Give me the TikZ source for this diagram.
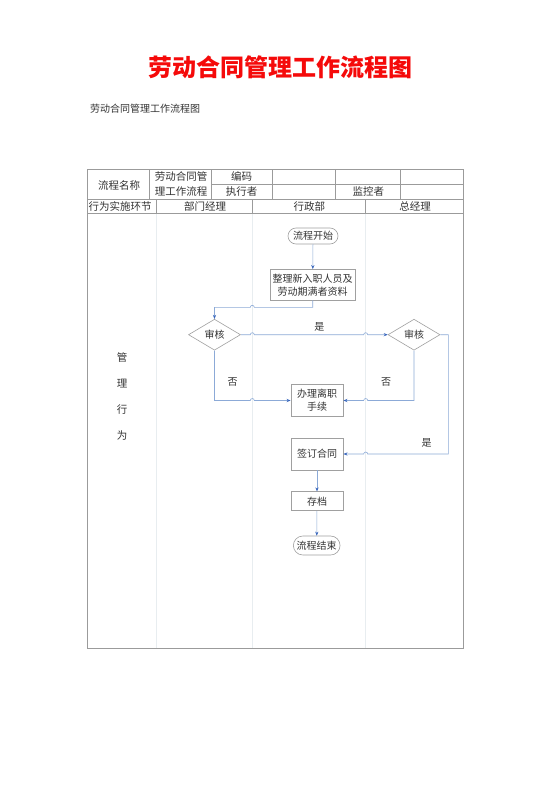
\documentclass[tikz,border=0pt]{standalone}
\usepackage{fontspec}
\setmainfont{Noto Sans CJK SC}
\usetikzlibrary{shapes.geometric,shapes.misc,arrows.meta,calc}
\definecolor{titlered}{RGB}{245,10,10}
\definecolor{tabline}{RGB}{155,155,155}
\definecolor{lane}{RGB}{232,237,240}
\definecolor{conn}{RGB}{140,170,215}
\definecolor{tipblue}{RGB}{60,105,190}
\definecolor{boxline}{RGB}{160,160,160}
\tikzset{
  tab/.style={draw=tabline,line width=0.7bp},
  lanel/.style={draw=lane,line width=0.7bp},
  txt/.style={font=\fontsize{10.5bp}{12bp}\selectfont,inner sep=0pt,text=black!80},
  ftxt/.style={font=\fontsize{10bp}{13bp}\selectfont,inner sep=0pt,text=black!80,align=center},
  procbox/.style={ftxt,draw=boxline,line width=0.6bp,rectangle,fill=white},
  termbox/.style={ftxt,draw=boxline,line width=0.6bp,rounded rectangle,fill=white},
  decbox/.style={ftxt,draw=boxline,line width=0.6bp,diamond,minimum width=52bp,minimum height=31bp,fill=white},
  connl/.style={draw=conn,line width=0.6bp,-{Stealth[length=4bp,width=3.2bp,color=tipblue]}},
  lab/.style={font=\fontsize{10bp}{12bp}\selectfont,inner sep=0pt,text=black!80},
}
\begin{document}
\begin{tikzpicture}[x=1bp,y=-1bp]
\useasboundingbox[fill=white] (0,0) rectangle (560,792);
% titles
\node[font=\fontsize{24bp}{28bp}\selectfont\bfseries,text=titlered,inner sep=0pt] (title) at (280,67) {劳动合同管理工作流程图};
\node[font=\fontsize{10bp}{12bp}\selectfont,anchor=west,inner sep=0pt,text=black!80] (subtitle) at (90,109) {劳动合同管理工作流程图};
% lane lines in flow area
\draw[lanel] (156.7,213.3) -- (156.7,648.3);
\draw[lanel] (252.3,213.3) -- (252.3,648.3);
\draw[lanel] (365.7,213.3) -- (365.7,648.3);
% table
\draw[tab] (87.3,169.3) rectangle (463.3,648.3);
\draw[tab] (211.7,184.3) -- (463.3,184.3);
\draw[tab] (87.3,199.3) -- (463.3,199.3);
\draw[tab] (87.3,213.3) -- (463.3,213.3);
\foreach \xx in {149.3,211.7,272.7,335,400} {\draw[tab] (\xx,169.3) -- (\xx,199.3);}
\foreach \xx in {156.7,252.3,365.7} {\draw[tab] (\xx,199.3) -- (\xx,213.3);}
% table texts
\node[txt] (h1) at (119,185) {流程名称};
\node[txt,align=center,font=\fontsize{10.5bp}{15bp}\selectfont] (h2) at (181,183.5) {劳动合同管\\理工作流程};
\node[txt] (h3) at (241.7,176.7) {编码};
\node[txt] (h4) at (241.7,191.7) {执行者};
\node[txt] (h5) at (368.3,191.7) {监控者};
\node[txt] (r1) at (120,206.5) {行为实施环节};
\node[txt] (r2) at (205,206.5) {部门经理};
\node[txt] (r3) at (309.3,206.5) {行政部};
\node[txt] (r4) at (415,206.5) {总经理};
\node[txt,align=center,font=\fontsize{10.5bp}{26bp}\selectfont] (vt) at (122,396) {管\\理\\行\\为};
% flow nodes
\node[termbox,minimum width=50bp,minimum height=16bp] (start) at (313,236) {流程开始};
\node[procbox,minimum width=85bp,minimum height=30.7bp] (prep) at (312.7,284.7) {整理新入职人员及\\劳动期满者资料};
\node[decbox] (d1) at (214.5,334.7) {审核};
\node[decbox] (d2) at (414,334.7) {审核};
\node[procbox,minimum width=52.3bp,minimum height=31.7bp] (quit) at (317,400.5) {办理离职\\手续};
\node[procbox,minimum width=52.3bp,minimum height=31.7bp] (sign) at (317,454) {签订合同};
\node[procbox,minimum width=52.3bp,minimum height=19bp] (arch) at (317,501.2) {存档};
\node[termbox,minimum width=46.7bp,minimum height=19bp] (end) at (316.7,545.5) {流程结束};
% connectors
\draw[connl] (start) -- (prep);
\draw[connl] (prep.south) -- (312.7,307.3) -- (254.3,307.3) arc[start angle=0,end angle=180,radius=2bp] -- (214.5,307.3) -- (d1.north);
\draw[connl] (d1.east) -- (250.3,334.7) arc[start angle=180,end angle=0,radius=2bp] -- (363.7,334.7) arc[start angle=180,end angle=0,radius=2bp] -- (d2.west);
\draw[connl] (d1.south) -- (214.5,400.5) -- (250.3,400.5) arc[start angle=180,end angle=0,radius=2bp] -- (quit.west);
\draw[connl] (d2.south) -- (414,400.5) -- (367.7,400.5) arc[start angle=0,end angle=180,radius=2bp] -- (quit.east);
\draw[connl] (d2.east) -- (448.3,334.7) -- (448.3,454) -- (367.7,454) arc[start angle=0,end angle=180,radius=2bp] -- (sign.east);
\draw[connl] (sign) -- (arch);
\draw[connl] (arch) -- (end);
% labels
\node[lab] (l1) at (319.3,327.3) {是};
\node[lab] (l2) at (232.7,381.7) {否};
\node[lab] (l3) at (386,381.7) {否};
\node[lab] (l4) at (426.7,442.7) {是};
\end{tikzpicture}
\end{document}
